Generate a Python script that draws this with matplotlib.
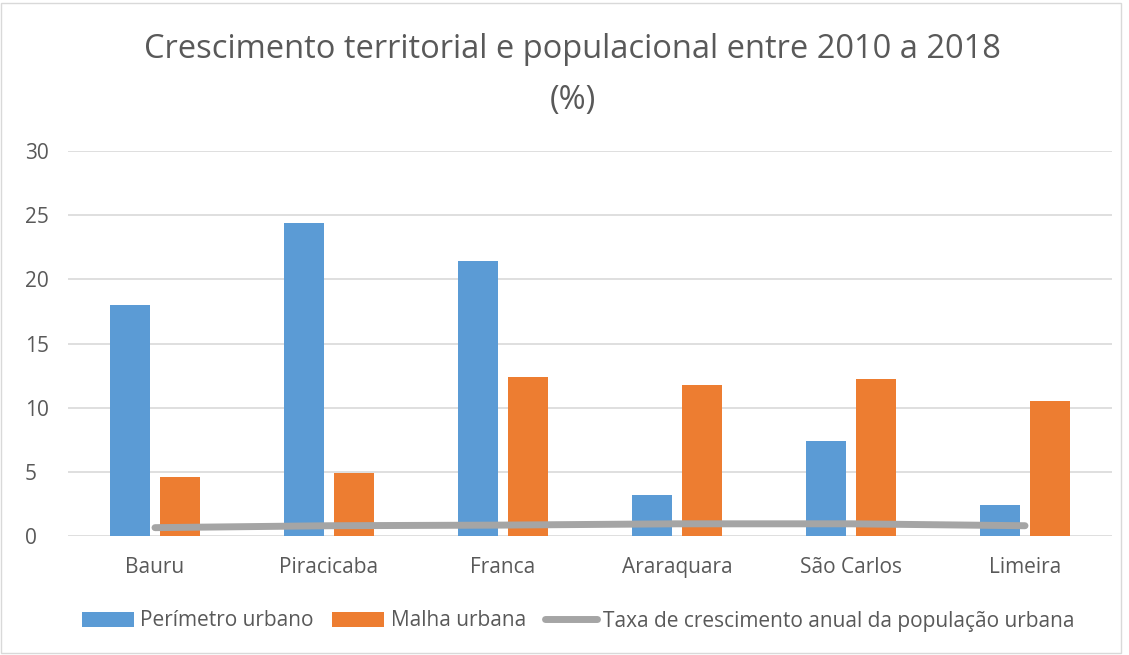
import numpy as np
import matplotlib.pyplot as plt
import matplotlib.patches as mpatches

cidades = ["Bauru", "Piracicaba", "Franca", "Araraquara", "São Carlos", "Limeira"]
perimetro = [18.0, 24.4, 21.4, 3.2, 7.4, 2.4]
malha = [4.6, 4.9, 12.4, 11.8, 12.2, 10.5]
taxa_pop = [0.65, 0.8, 0.85, 0.95, 0.95, 0.8]

azul = "#5B9BD5"
laranja = "#ED7D31"
cinza = "#A5A5A5"
texto = "#595959"

plt.rcParams['font.family'] = ['Open Sans', 'DejaVu Sans']

fig = plt.figure(figsize=(11.29, 6.55), dpi=100)
ax = fig.add_axes([68/1129, 1 - 536/655, 1044/1129, 385/655])

x = np.arange(len(cidades))
w = 0.23
ax.bar(x - 0.142, perimetro, w, color=azul, label="Perímetro urbano", zorder=2)
ax.bar(x + 0.142, malha, w, color=laranja, label="Malha urbana", zorder=2)
ax.plot(x, taxa_pop, color=cinza, lw=5, solid_capstyle='round',
        label="Taxa de crescimento anual da população urbana", zorder=3)

ax.set_xlim(-0.5, len(cidades) - 0.5)
ax.set_ylim(0, 30)
ax.set_yticks(range(0, 31, 5))
ax.set_xticks(x)
ax.set_xticklabels(cidades)
ax.yaxis.grid(True, color="#D9D9D9", lw=1.2, zorder=0)
for s in ax.spines.values():
    s.set_visible(False)
ax.tick_params(length=0, labelsize=15, labelcolor=texto)
ax.tick_params(axis='x', pad=15)
ax.tick_params(axis='y', pad=31)
for t in ax.get_yticklabels():
    t.set_horizontalalignment('left')

fig.text(0.507, 1 - 50/655, "Crescimento territorial e populacional entre 2010 a 2018",
         ha='center', va='center', fontsize=23.5, color=texto)
fig.text(0.507, 1 - 100/655, "(%)", ha='center', va='center', fontsize=23.5, color=texto)

h, l = ax.get_legend_handles_labels()
order = [1, 2, 0]
leg = fig.legend([h[i] for i in order], [l[i] for i in order], loc='center',
                 bbox_to_anchor=(0.512, 1 - 621/655), ncol=3, frameon=False,
                 fontsize=15, handlelength=2.5, columnspacing=0.9, handletextpad=0.3)
for t in leg.get_texts():
    t.set_color(texto)

fig.patches.append(mpatches.Rectangle((1/1129, 2/655), 1120/1129, 650/655,
                                      transform=fig.transFigure, fill=False,
                                      edgecolor="#D9D9D9", lw=1))

fig.savefig("out.png", dpi=100)
